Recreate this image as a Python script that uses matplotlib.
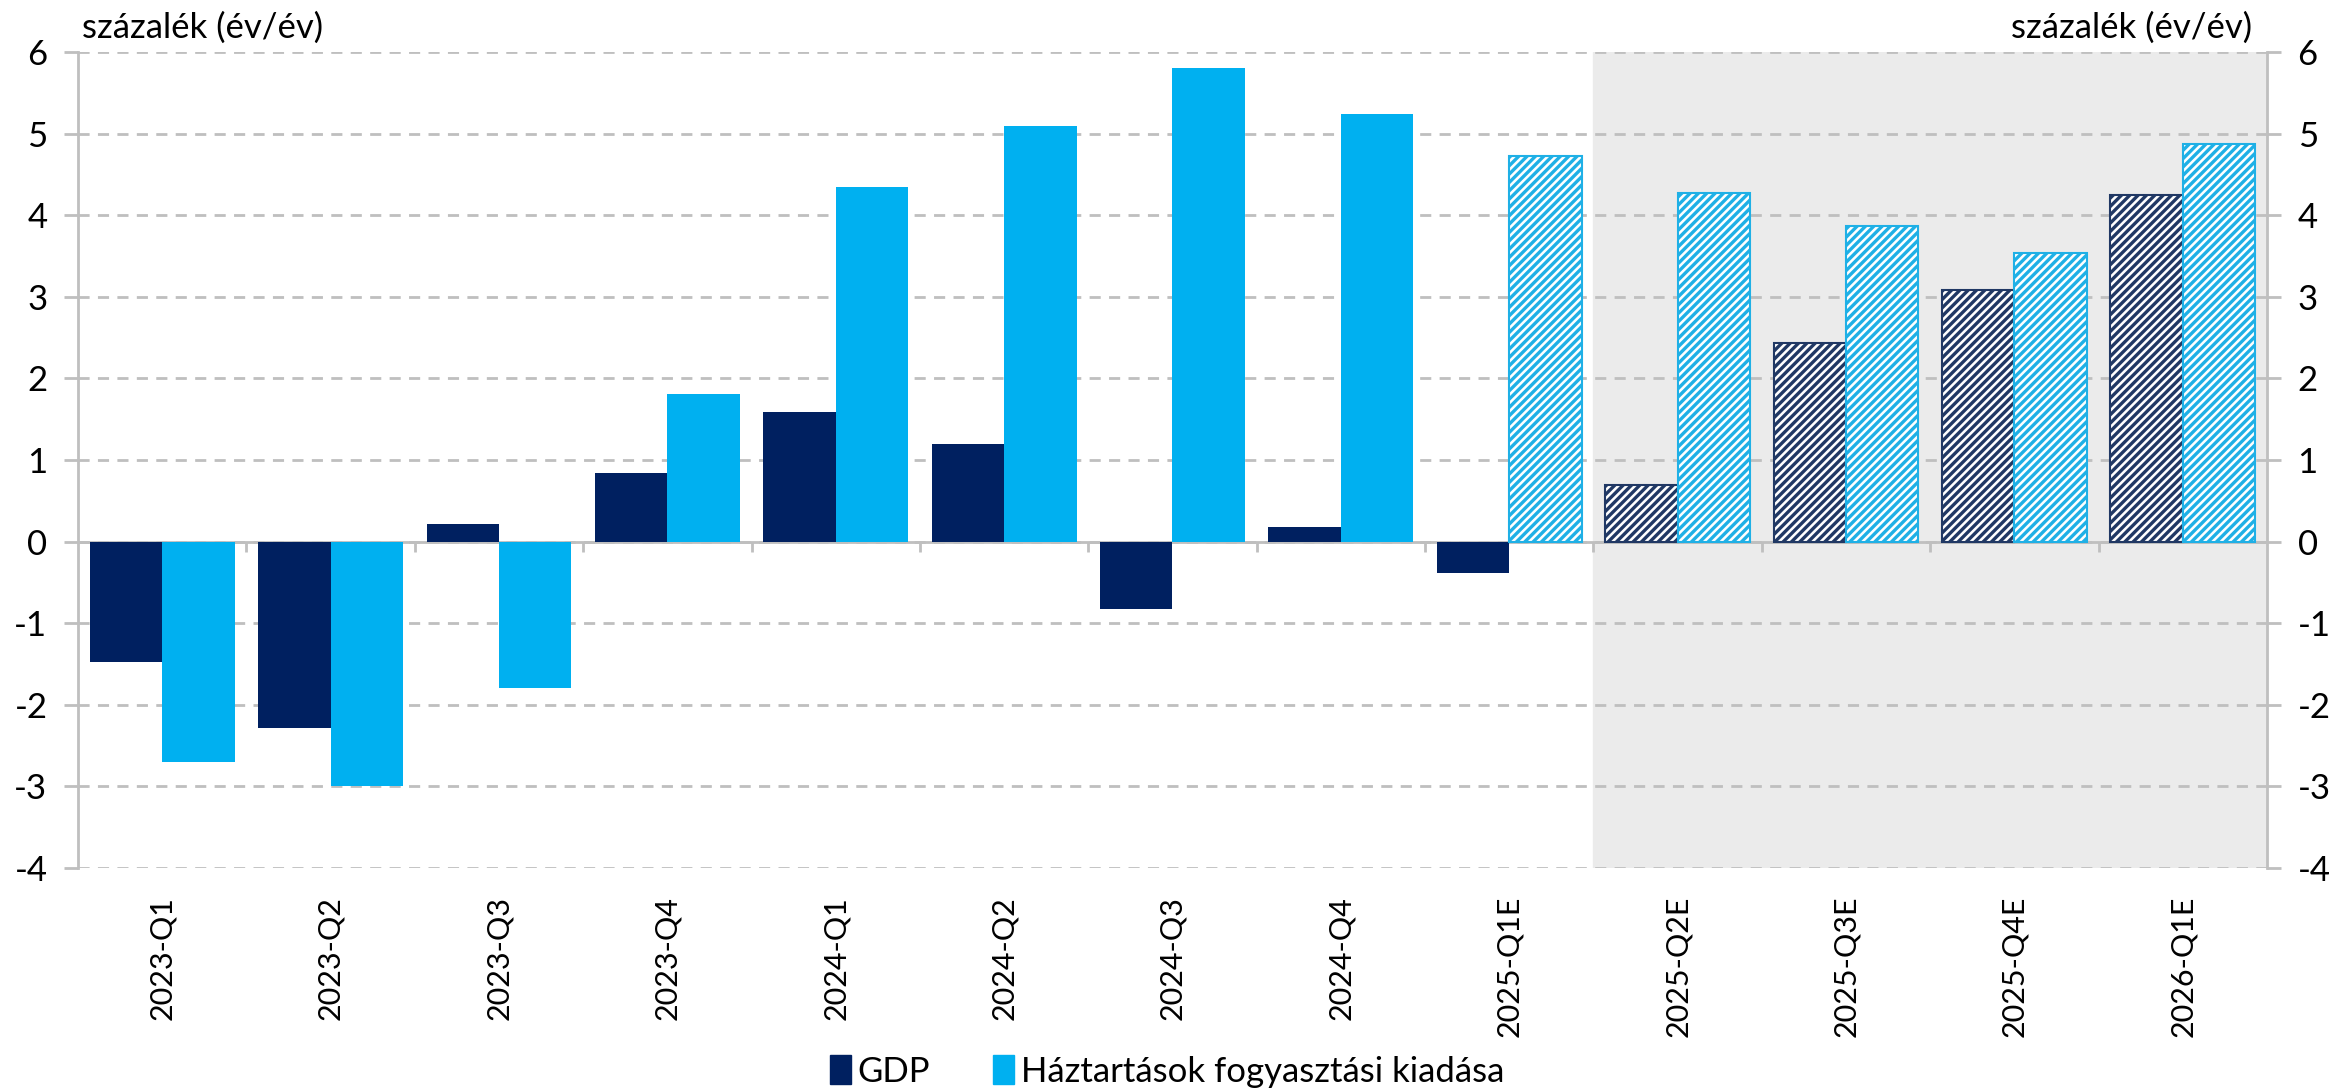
import numpy as np
import matplotlib.pyplot as plt

plt.rcParams['font.family'] = ['Lato', 'DejaVu Sans']
plt.rcParams['hatch.linewidth'] = 2.4

quarters = ['2023-Q1', '2023-Q2', '2023-Q3', '2023-Q4', '2024-Q1', '2024-Q2',
            '2024-Q3', '2024-Q4', '2025-Q1E', '2025-Q2E', '2025-Q3E',
            '2025-Q4E', '2026-Q1E']
gdp = [-1.48, -2.28, 0.22, 0.84, 1.59, 1.20, -0.82, 0.18, -0.38,
       0.69, 2.43, 3.08, 4.25]
consumption = [-2.70, -3.00, -1.79, 1.81, 4.34, 5.09, 5.80, 5.24, 4.73,
               4.27, 3.87, 3.54, 4.87]
# first forecast index for each series (hatched bars)
gdp_forecast_from = 9
cons_forecast_from = 8
shade_from = 8.5

navy = '#002060'
navy_hatch = '#203864'
light = '#00B0F0'
light_hatch = '#1FB0E6'
grid_col = '#BFBFBF'
fs = 25

fig = plt.figure(figsize=(23.34, 10.91), dpi=100)
ax = fig.add_axes([0.0334, 0.2044, 0.9379, 0.7479])

x = np.arange(len(quarters))
w = 0.43

for i in x:
    if i >= gdp_forecast_from:
        ax.bar(i - w / 2, gdp[i], w, facecolor='white', edgecolor=navy_hatch,
               hatch='////', linewidth=1.5, zorder=3)
    else:
        ax.bar(i - w / 2, gdp[i], w, color=navy, zorder=3)
    if i >= cons_forecast_from:
        ax.bar(i + w / 2, consumption[i], w, facecolor='white',
               edgecolor=light_hatch, hatch='////', linewidth=1.5, zorder=3)
    else:
        ax.bar(i + w / 2, consumption[i], w, color=light, zorder=3)

ax.axvspan(shade_from, len(quarters) - 0.5, color='#EBEBEB', zorder=0)

ax.set_xlim(-0.5, len(quarters) - 0.5)
ax.set_ylim(-4, 6)
ax.set_yticks(range(-4, 7))
ax.yaxis.grid(True, color=grid_col, linestyle=(0, (4, 3)), linewidth=2, zorder=1)
ax.set_axisbelow(True)

ax.axhline(0, color=grid_col, linewidth=2, zorder=2)
ax.vlines(x[:-1] + 0.5, -0.13, 0, color=grid_col, linewidth=2, zorder=2)

for s in ['top', 'bottom']:
    ax.spines[s].set_visible(False)
for s in ['left', 'right']:
    ax.spines[s].set_color(grid_col)
    ax.spines[s].set_linewidth(2)

ax.set_xticks(x)
ax.set_xticklabels(quarters, rotation=90, fontsize=22)
ax.tick_params(axis='x', length=0, pad=20)
ax.tick_params(axis='y', labelsize=fs, length=10, width=2, color=grid_col,
               pad=12, right=True, labelright=True)
ax.set_yticklabels([str(v) for v in range(-4, 7)])

fig.text(0.035, 0.975, 'százalék (év/év)', fontsize=fs, ha='left', va='center')
fig.text(0.965, 0.975, 'százalék (év/év)', fontsize=fs, ha='right', va='center')

handles = [plt.Rectangle((0, 0), 1, 1, color=navy),
           plt.Rectangle((0, 0), 1, 1, color=light)]
fig.legend(handles, ['GDP', 'Háztartások fogyasztási kiadása'],
           loc='center', bbox_to_anchor=(0.5, 0.018), ncol=2, frameon=False,
           fontsize=fs, handlelength=0.6, handleheight=0.9,
           handletextpad=0.2, columnspacing=1.8)

fig.savefig('out.png', dpi=100)
